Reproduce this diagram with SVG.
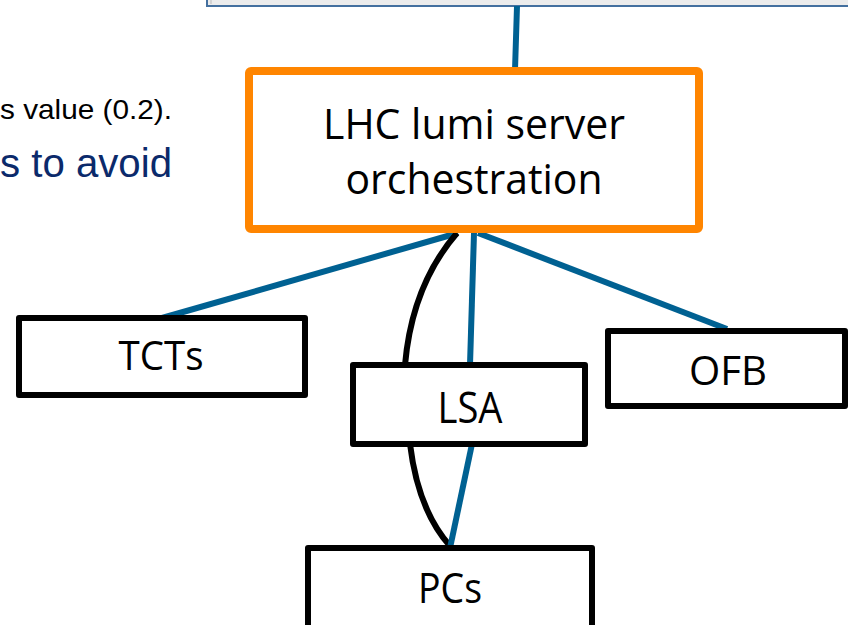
<svg xmlns="http://www.w3.org/2000/svg" width="848" height="625" viewBox="0 0 848 625">
<style>
.box{fill:#fff;stroke:#000;stroke-width:6;stroke-linejoin:round}
.lbl{font-family:"Open Sans","Noto Sans",sans-serif;fill:#000;text-anchor:middle}
.blue{stroke:#006192;stroke-width:6;fill:none}
.blk{stroke:#000;stroke-width:6;fill:none}
</style>
<rect width="848" height="625" fill="#fff"/>
<g id="frame">
<rect x="207" y="-10" width="660" height="16" fill="#ececec" stroke="#44709f" stroke-width="2"/>
<line x1="211" y1="-2" x2="211" y2="4" stroke="#bbb" stroke-width="1"/>
</g>
<g id="bgtext">
<text x="172" y="119" font-family="Liberation Sans, Arial, sans-serif" font-size="28" text-anchor="end" fill="#000" textLength="172" lengthAdjust="spacingAndGlyphs">s value (0.2).</text>
<text x="172" y="177" font-family="Liberation Sans, Arial, sans-serif" font-size="40" text-anchor="end" fill="#0b2a6b" textLength="172" lengthAdjust="spacingAndGlyphs">s to avoid</text>
</g>
<g id="connectors">
<line class="blue" x1="517" y1="6" x2="515" y2="70"/>
<line class="blue" x1="458" y1="233" x2="162" y2="318"/>
<line class="blue" x1="474" y1="233" x2="470" y2="365"/>
<line class="blue" x1="478" y1="233" x2="727" y2="329"/>
<path class="blk" d="M457 233 Q412 285 405 365"/>
<path class="blk" d="M410 444 Q418 510 450 546"/>
<line class="blue" x1="472" y1="444" x2="450" y2="548"/>
</g>
<g id="lhc">
<rect x="249" y="71" width="450" height="158" fill="#fff" stroke="#ff8500" stroke-width="8" rx="2"/>
<text class="lbl" x="474" y="139" font-size="42" textLength="302" lengthAdjust="spacingAndGlyphs">LHC lumi server</text>
<text class="lbl" x="474" y="194" font-size="42" textLength="257" lengthAdjust="spacingAndGlyphs">orchestration</text>
</g>
<g id="tcts">
<rect class="box" x="19" y="318" width="286" height="77"/>
<text class="lbl" x="161" y="370" font-size="40" textLength="85" lengthAdjust="spacingAndGlyphs">TCTs</text>
</g>
<g id="lsa">
<rect class="box" x="353" y="365" width="232" height="79"/>
<text class="lbl" x="470" y="423" font-size="43" textLength="65" lengthAdjust="spacingAndGlyphs">LSA</text>
</g>
<g id="ofb">
<rect class="box" x="608" y="331" width="237" height="75"/>
<text class="lbl" x="728" y="385" font-size="41" textLength="78" lengthAdjust="spacingAndGlyphs">OFB</text>
</g>
<g id="pcs">
<rect class="box" x="308" y="548" width="284" height="90"/>
<text class="lbl" x="450" y="603" font-size="42" textLength="64" lengthAdjust="spacingAndGlyphs">PCs</text>
</g>
</svg>
